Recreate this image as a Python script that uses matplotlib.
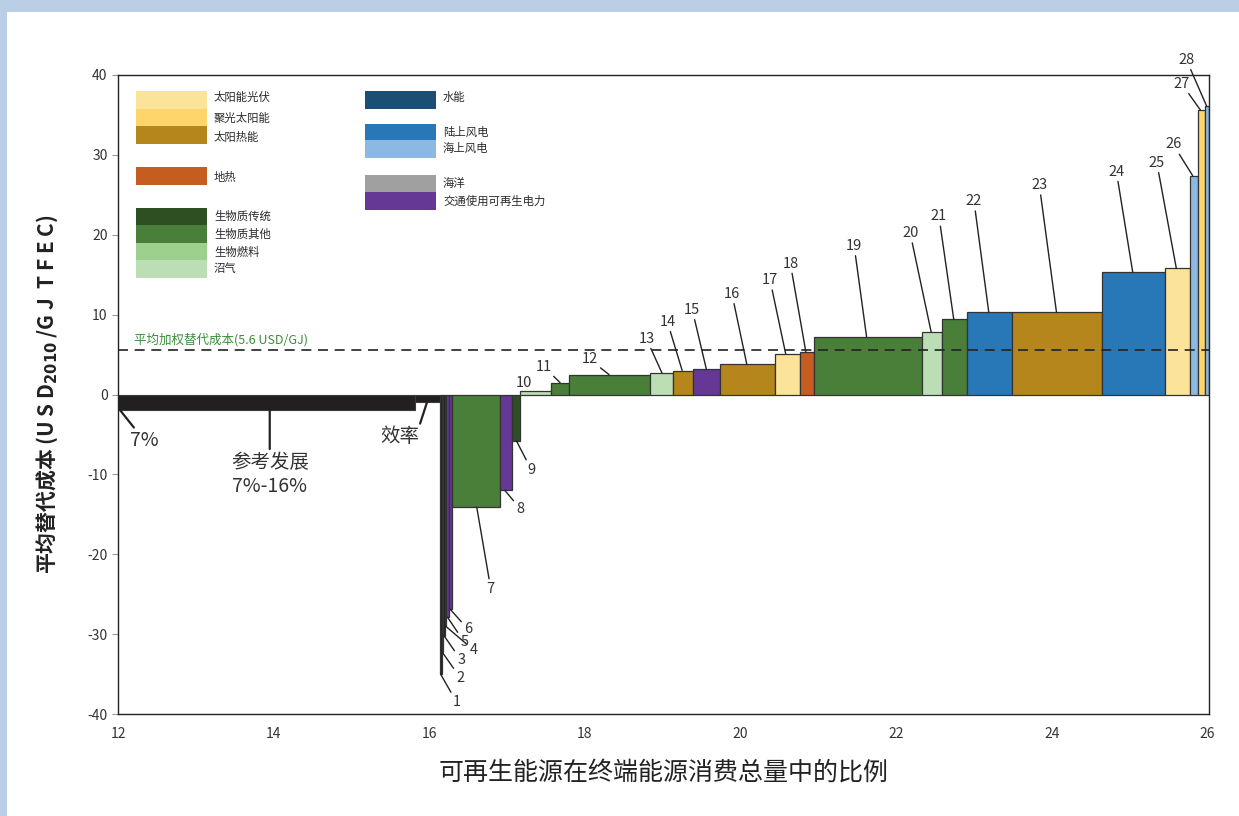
import matplotlib
matplotlib.use("Agg")
import matplotlib.pyplot as plt
from matplotlib.patches import Rectangle

plt.rcParams['font.family'] = ['Noto Sans CJK SC', 'DejaVu Sans']
plt.rcParams['axes.unicode_minus'] = False

# renewable share of TFEC (%) at the edges of each numbered step
share_edges = [16.14, 16.16, 16.18, 16.20, 16.22, 16.25, 16.29, 16.91, 17.06, 17.16,
               17.56, 17.80, 18.84, 19.13, 19.39, 19.73, 20.44, 20.77, 20.94, 22.33,
               22.59, 22.91, 23.49, 24.64, 25.46, 25.78, 25.88, 25.97, 26.02]
# substitution cost of each step (USD2010/GJ TFEC)
costs = [-35.0, -32.3, -30.2, -29.0, -27.9, -26.9, -14.1, -12.0, -5.8, 0.4,
         1.5, 2.5, 2.7, 3.0, 3.2, 3.8, 5.1, 5.3, 7.2, 7.8,
         9.4, 10.3, 10.3, 15.3, 15.8, 27.4, 35.6, 36.1]
techs = ['ref', 'ref', 'ref', 'ref', 'ev', 'ev', 'bio_other', 'ev', 'bio_trad', 'biogas',
         'bio_other', 'bio_other', 'biogas', 'solar_th', 'ev', 'solar_th', 'pv', 'geo', 'bio_other', 'biogas',
         'bio_other', 'wind_on', 'solar_th', 'wind_on', 'pv', 'wind_off', 'csp', 'wind_off']

# reference development and efficiency blocks
ref_share = (12.0, 15.82)
ref_cost = -2.0
eff_share = (15.82, 16.14)
eff_cost = -1.0
avg_cost = 5.6

colors = {
    'ref': '#231f20',
    'pv': '#fce39a',
    'csp': '#fdd56a',
    'solar_th': '#b5861c',
    'geo': '#c55d20',
    'bio_trad': '#2c5021',
    'bio_other': '#4a7f3a',
    'biofuel': '#9dd08f',
    'biogas': '#bcdeb4',
    'hydro': '#1a4e74',
    'wind_on': '#2878b8',
    'wind_off': '#8bb9e2',
    'ocean': '#a0a0a0',
    'ev': '#653896',
}

legend_left = [('pv', '太阳能光伏'), ('csp', '聚光太阳能'), ('solar_th', '太阳热能'),
               ('geo', '地热'),
               ('bio_trad', '生物质传统'), ('bio_other', '生物质其他'),
               ('biofuel', '生物燃料'), ('biogas', '沼气')]
legend_right = [('hydro', '水能'), ('wind_on', '陆上风电'), ('wind_off', '海上风电'),
                ('ocean', '海洋'), ('ev', '交通使用可再生电力')]

# where each leader line meets its bar (x) and where the number sits
anchor_x = [16.145, 16.17, 16.19, 16.21, 16.235, 16.27, 16.61, 16.97, 17.12, None,
            17.68, 18.31, 18.99, 19.25, 19.56, 20.08, 20.58, 20.84, 21.62, 22.45,
            22.74, 23.19, 24.06, 25.04, 25.60, 25.81, 25.91, 25.99]
label_xy = [(16.35, -38.5), (16.40, -35.5), (16.41, -33.3), (16.57, -32.0), (16.45, -31.0),
            (16.50, -29.4), (16.79, -24.3), (17.17, -14.3), (17.31, -9.4), (17.22, 1.5),
            (17.47, 3.5), (18.06, 4.4), (18.79, 7.0), (19.06, 9.1), (19.38, 10.6),
            (19.89, 12.6), (20.38, 14.3), (20.64, 16.4), (21.46, 18.6), (22.18, 20.2),
            (22.55, 22.3), (23.00, 24.2), (23.84, 26.2), (24.83, 27.9), (25.35, 29.0),
            (25.56, 31.3), (25.67, 38.9), (25.73, 41.9)]

fig = plt.figure(figsize=(12.39, 8.16), dpi=100)
fig.patch.set_facecolor('#bacee6')
fig.add_artist(Rectangle((7 / 1239, 0), 1 - 7 / 1239, (816 - 12) / 816,
                         transform=fig.transFigure, facecolor='white',
                         edgecolor='none', zorder=-1))
ax = fig.add_axes([118 / 1239, (816 - 714) / 816, (1209 - 118) / 1239, (714 - 75) / 816])

# reference development + efficiency
ax.bar(ref_share[0], ref_cost, width=ref_share[1] - ref_share[0], align='edge',
       color=colors['ref'], edgecolor='#3a3a3a', linewidth=0.8, zorder=2)
ax.bar(eff_share[0], eff_cost, width=eff_share[1] - eff_share[0], align='edge',
       color=colors['ref'], edgecolor='#3a3a3a', linewidth=0.8, zorder=2)

# numbered steps
for i, c in enumerate(costs):
    left = share_edges[i]
    w = share_edges[i + 1] - left
    ax.bar(left, c, width=w, align='edge', color=colors[techs[i]],
           edgecolor='#333333', linewidth=0.9, zorder=2)

for i, c in enumerate(costs):
    lx, ly = label_xy[i]
    if anchor_x[i] is None:
        ax.text(lx, ly, str(i + 1), fontsize=10.5, color='#333333',
                ha='center', va='center')
        continue
    ax.annotate(str(i + 1), xy=(anchor_x[i], c), xytext=(lx, ly),
                fontsize=10.5, color='#333333', ha='center', va='center',
                annotation_clip=False,
                arrowprops=dict(arrowstyle='-', color='#222222', lw=1.0,
                                shrinkA=0, shrinkB=0))

ann_kw = dict(fontsize=14, color='#333333', ha='center', va='center')
line_kw = dict(arrowstyle='-', color='#222222', lw=1.6, shrinkA=0, shrinkB=0)
ax.annotate('7%', xy=(12.03, ref_cost), xytext=(12.34, -5.8),
            arrowprops=line_kw, **ann_kw)
ax.annotate('参考发展\n7%-16%', xy=(13.95, ref_cost), xytext=(13.95, -10.0),
            linespacing=1.2, arrowprops=line_kw, **ann_kw)
ax.annotate('效率', xy=(15.97, eff_cost), xytext=(15.62, -5.3),
            arrowprops=dict(line_kw, relpos=(1.0, 1.0)), **ann_kw)

# average weighted substitution cost
ax.axhline(avg_cost, color='#222222', lw=1.2, dashes=(6, 4), zorder=3)
ax.text(12.2, avg_cost + 0.4, '平均加权替代成本(5.6 USD/GJ)', fontsize=9,
        color='#3b8e3b', va='bottom', ha='left')

# legend drawn as swatches in axes fraction
def ax_frac(px, py):
    return (px - 118) / (1209 - 118), (714 - py) / (714 - 75)

left_rows = [(91, 109, 97), (109, 126, 118), (126, 144, 137), (167, 185, 177),
             (208, 225, 216), (225, 243, 234), (243, 260, 252), (260, 278, 269)]
right_rows = [(91, 109, 97), (124, 140, 132), (140, 158, 148), (175, 192, 184), (192, 210, 201)]
for entries, rows, x0, x1, tx in [(legend_left, left_rows, 136, 207, 214),
                                  (legend_right, right_rows, 365, 436, 443)]:
    for (key, name), (top, bot, ty) in zip(entries, rows):
        fx0, fy0 = ax_frac(x0, bot)
        fx1, fy1 = ax_frac(x1, top)
        ax.add_patch(Rectangle((fx0, fy0), fx1 - fx0, fy1 - fy0, transform=ax.transAxes,
                               facecolor=colors[key], edgecolor='none', zorder=4))
        fx, fy = ax_frac(tx, ty)
        ax.text(fx, fy, name, transform=ax.transAxes, fontsize=8.2,
                color='#2a2a2a', va='center', ha='left')

ax.set_xlim(12, 26.02)
ax.set_ylim(-40, 40)
ax.set_xticks(range(12, 27, 2))
ax.set_xticklabels([str(v) for v in range(12, 27, 2)])
ax.set_yticks(range(-40, 41, 10))
ax.set_yticklabels([str(v) for v in range(-40, 41, 10)])
ax.tick_params(axis='x', length=0, pad=9, labelsize=10, labelcolor='#333333')
ax.tick_params(axis='y', length=4, color='#999999', labelsize=10, labelcolor='#333333')
for s in ax.spines.values():
    s.set_color('#222222')
    s.set_linewidth(1.0)

ax.set_xlabel('可再生能源在终端能源消费总量中的比例', fontsize=18, color='#222222',
              fontweight='medium', labelpad=14)
ax.set_ylabel(r'平均替代成本 (U S D$_\mathbf{2010}$ /G J  T F E C)', fontsize=15,
              fontweight='bold', color='#222222', labelpad=20)

fig.savefig('out.png', dpi=100)
